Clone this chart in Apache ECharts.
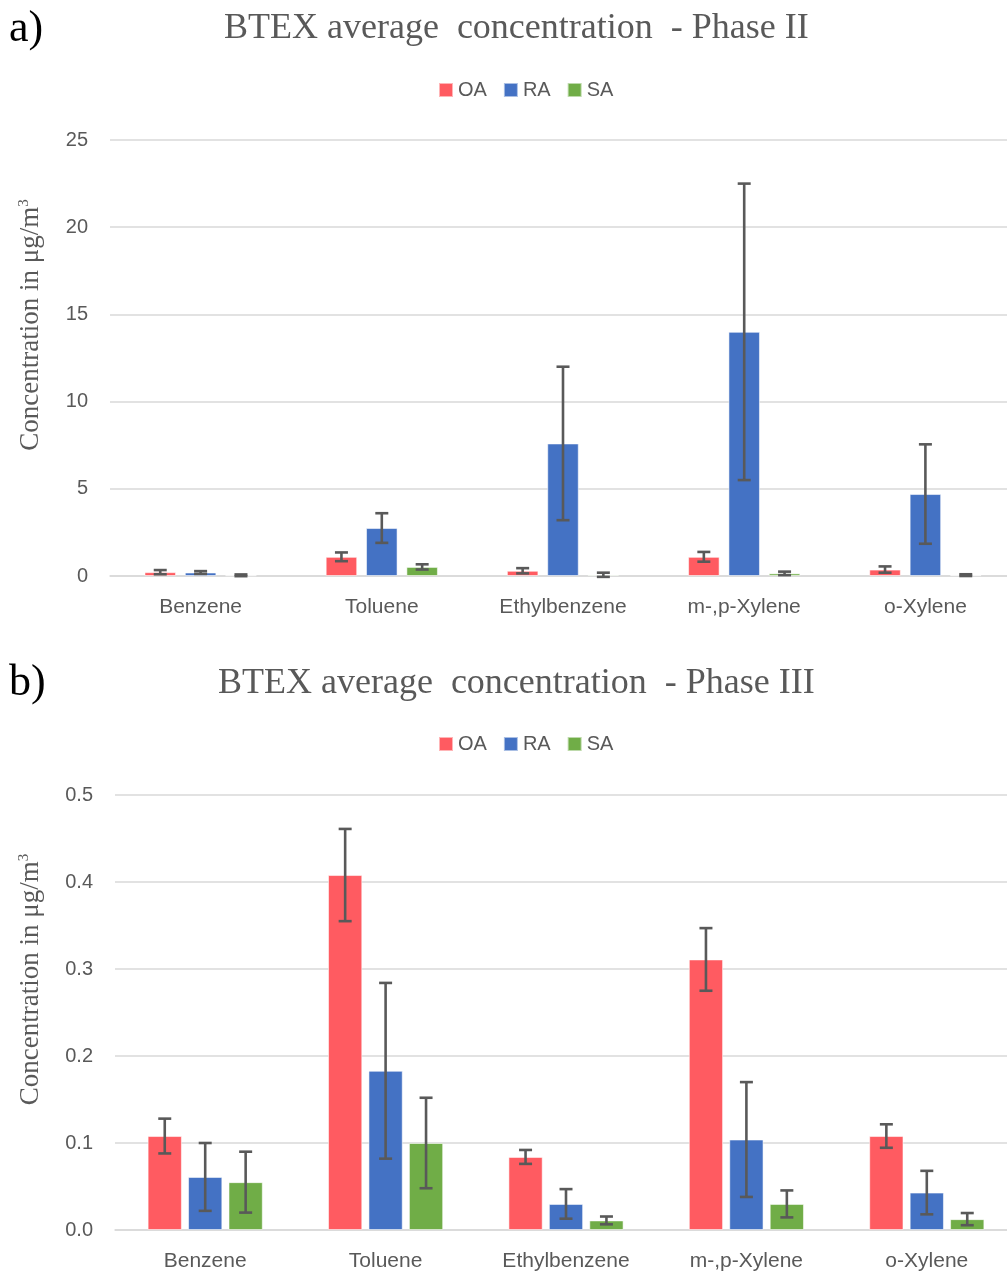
<!DOCTYPE html>
<html>
<head>
<meta charset="utf-8">
<script src="https://cdn.jsdelivr.net/npm/echarts@6/dist/echarts.min.js"></script>
<style>
  html, body { margin: 0; padding: 0; background: #ffffff; overflow: hidden; }
  #wrap { width: 1007px; height: 1274px; overflow: hidden; }
  #chart { width: 1030px; height: 1274px; }
</style>
</head>
<body>
<div id="wrap"><div id="chart"></div></div>
<script>
// BTEX compounds on the category axis
const categories = ['Benzene', 'Toluene', 'Ethylbenzene', 'm-,p-Xylene', 'o-Xylene'];
const seriesNames = ['OA', 'RA', 'SA'];

// Phase II averages and standard deviations (µg/m³)
const oaPhase2 = [0.22, 1.1, 0.3, 1.1, 0.37];
const raPhase2 = [0.2, 2.75, 7.6, 14.0, 4.7];
const saPhase2 = [0.04, 0.52, 0.07, 0.15, 0.05];
const oaPhase2Err = [0.12, 0.25, 0.15, 0.28, 0.18];
const raPhase2Err = [0.08, 0.85, 4.4, 8.5, 2.85];
const saPhase2Err = [0.05, 0.15, 0.12, 0.1, 0.05];

// Phase III averages and standard deviations (µg/m³)
const oaPhase3 = [0.108, 0.408, 0.084, 0.311, 0.108];
const raPhase3 = [0.061, 0.183, 0.030, 0.104, 0.043];
const saPhase3 = [0.055, 0.100, 0.011, 0.030, 0.0125];
const oaPhase3Err = [0.020, 0.053, 0.008, 0.036, 0.0135];
const raPhase3Err = [0.039, 0.101, 0.017, 0.066, 0.025];
const saPhase3Err = [0.035, 0.052, 0.0045, 0.0155, 0.007];

// Axis ticks
const phase2Ticks = { min: 0, max: 25, interval: 5 };
const phase3Ticks = { min: 0, max: 0.5, interval: 0.1 };

const colors = ['#FF5B61', '#4472C4', '#70AD47'];
const grey = '#595959';
const gridGrey = '#d9d9d9';
const sansFont = "'Liberation Sans', Arial, sans-serif";
const serifFont = "'Liberation Serif', 'Times New Roman', serif";

// Bar geometry per panel, as fractions of the category band
const layout = [
  { barFrac: 0.174, gapFrac: 0.28 },
  { barFrac: 0.19, gapFrac: 0.18 }
];

function errorRenderer(panel, k) {
  return function (params, api) {
    const idx = api.value(0);
    const lo = api.value(1);
    const hi = api.value(2);
    const band = api.size([1, 0])[0];
    const bw = band * layout[panel].barFrac;
    const off = (k - 1) * bw * (1 + layout[panel].gapFrac);
    const pHi = api.coord([idx, hi]);
    const pLo = api.coord([idx, lo]);
    const cx = pHi[0] + off;
    const cap = 6.5;
    const style = { stroke: grey, lineWidth: 2.6 };
    return {
      type: 'group',
      children: [
        { type: 'line', shape: { x1: cx, y1: pHi[1], x2: cx, y2: pLo[1] }, style: style },
        { type: 'line', shape: { x1: cx - cap, y1: pHi[1], x2: cx + cap, y2: pHi[1] }, style: style },
        { type: 'line', shape: { x1: cx - cap, y1: pLo[1], x2: cx + cap, y2: pLo[1] }, style: style }
      ]
    };
  };
}

function errorData(means, errs) {
  return means.map((m, i) => [i, m - errs[i], m + errs[i]]);
}

const panels = [
  { means: [oaPhase2, raPhase2, saPhase2], errs: [oaPhase2Err, raPhase2Err, saPhase2Err] },
  { means: [oaPhase3, raPhase3, saPhase3], errs: [oaPhase3Err, raPhase3Err, saPhase3Err] }
];

const series = [];
panels.forEach((p, panel) => {
  p.means.forEach((vals, k) => {
    series.push({
      name: seriesNames[k],
      type: 'bar',
      xAxisIndex: panel,
      yAxisIndex: panel,
      data: vals,
      barWidth: (layout[panel].barFrac * 100) + '%',
      barGap: (layout[panel].gapFrac * 100) + '%',
      itemStyle: { color: colors[k], borderColor: 'rgba(255,255,255,0.55)', borderWidth: 1 },
      z: 2
    });
  });
  p.means.forEach((vals, k) => {
    series.push({
      type: 'custom',
      xAxisIndex: panel,
      yAxisIndex: panel,
      renderItem: errorRenderer(panel, k),
      encode: { x: 0, y: [1, 2] },
      data: errorData(vals, p.errs[k]),
      z: 5,
      silent: true
    });
  });
});

function yAxis(ticks, gridIndex, gap, decimals) {
  return {
    type: 'value',
    gridIndex: gridIndex,
    min: ticks.min,
    max: ticks.max,
    interval: ticks.interval,
    name: 'Concentration in μg/m{sup|3}',
    nameLocation: 'middle',
    nameRotate: 90,
    nameGap: gap,
    nameTextStyle: {
      fontFamily: serifFont,
      fontSize: 27,
      color: grey,
      padding: [0, 0, 0, 66],
      rich: { sup: { fontFamily: serifFont, fontSize: 15, color: grey, verticalAlign: 'top', padding: [0, 0, 12, 0] } }
    },
    axisLine: { show: false },
    axisTick: { show: false },
    axisLabel: {
      color: grey, fontFamily: sansFont, fontSize: 20, margin: 22,
      formatter: v => v.toFixed(decimals)
    },
    splitLine: { lineStyle: { color: gridGrey, width: 1.5 } }
  };
}

function xAxis(gridIndex) {
  return {
    type: 'category',
    gridIndex: gridIndex,
    data: categories,
    axisTick: { show: false },
    axisLine: { lineStyle: { color: gridGrey, width: 1.5 } },
    axisLabel: { color: grey, fontFamily: sansFont, fontSize: 21, margin: 21 }
  };
}

const legendStyle = {
  data: seriesNames,
  icon: 'rect',
  itemWidth: 14,
  itemHeight: 14,
  itemGap: 16,
  textStyle: { color: grey, fontFamily: sansFont, fontSize: 20 },
  selectedMode: false
};

const option = {
  animation: false,
  backgroundColor: '#ffffff',
  color: colors,
  title: [
    { text: 'BTEX average  concentration  - Phase II', left: 219, top: 6,
      textStyle: { fontFamily: serifFont, fontSize: 36, fontWeight: 'normal', color: grey } },
    { text: 'a)', left: 4, top: 2,
      textStyle: { fontFamily: serifFont, fontSize: 44, fontWeight: 'normal', color: '#000000' } },
    { text: 'BTEX average  concentration  - Phase III', left: 213, top: 661,
      textStyle: { fontFamily: serifFont, fontSize: 36, fontWeight: 'normal', color: grey } },
    { text: 'b)', left: 4, top: 656,
      textStyle: { fontFamily: serifFont, fontSize: 44, fontWeight: 'normal', color: '#000000' } }
  ],
  legend: [
    Object.assign({ left: 433, top: 75 }, legendStyle),
    Object.assign({ left: 433, top: 729 }, legendStyle)
  ],
  grid: [
    { left: 110, top: 140, width: 906, height: 436 },
    { left: 115, top: 795, width: 902, height: 435 }
  ],
  xAxis: [xAxis(0), xAxis(1)],
  yAxis: [yAxis(phase2Ticks, 0, 66, 0), yAxis(phase3Ticks, 1, 71, 1)],
  series: series
};

const chart = echarts.init(document.getElementById('chart'), null, { renderer: 'canvas' });
chart.setOption(option);
</script>
</body>
</html>
